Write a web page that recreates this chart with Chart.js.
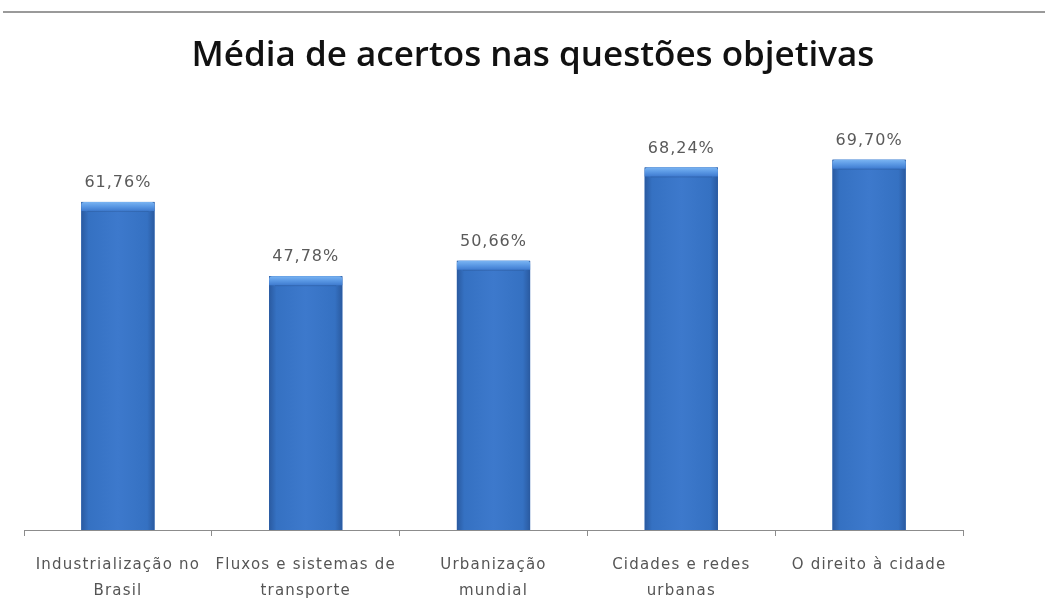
<!DOCTYPE html>
<html>
<head>
<meta charset="utf-8">
<script src="https://cdn.jsdelivr.net/npm/chart.js@4"></script>
<style>
  html, body { margin: 0; padding: 0; background: #fff; }
  #wrap { position: relative; width: 1045px; height: 604px; }
  #topline { position: absolute; left: 3px; right: 0; top: 11px; height: 2px; background: #9a9a9a; }
</style>
</head>
<body>
<div id="wrap">
  <div id="topline"></div>
  <canvas id="chart" width="1045" height="604"></canvas>
</div>
<script>
// --- DATA ---
const categories = [
    ["Industrialização no", "Brasil"],
    ["Fluxos e sistemas de", "transporte"],
    ["Urbanização", "mundial"],
    ["Cidades e redes", "urbanas"],
    ["O direito à cidade"]
];
const acertos = [61.76, 47.78, 50.66, 68.24, 69.70];
const chartTitle = "Média de acertos nas questões objetivas";

// value with comma decimal, like "61,76%"
function fmtPct(v) {
    return v.toFixed(2).replace(".", ",") + "%";
}

// wider letter spacing for the axis labels
const spacedText = {
    id: "spacedText",
    beforeDraw(chart) {
        chart.ctx.letterSpacing = "1.2px";
    }
};

// --- TITLE (drawn a bit right of the plot centre) ---
const titleText = {
    id: "titleText",
    afterDraw(chart) {
        const ctx = chart.ctx;
        ctx.save();
        ctx.letterSpacing = "0px";
        ctx.fillStyle = "#111";
        ctx.font = "600 35px 'Open Sans', sans-serif";
        ctx.textAlign = "center";
        ctx.textBaseline = "middle";
        ctx.fillText(chartTitle, 533, 56);
        ctx.restore();
    }
};

// --- BAR SHADING + VALUE LABELS ---
const bevelBars = {
    id: "bevelBars",
    afterDatasetsDraw(chart) {
        const ctx = chart.ctx;
        const meta = chart.getDatasetMeta(0);
        meta.data.forEach((bar, i) => {
            const x0 = bar.x - bar.width / 2;
            const x1 = bar.x + bar.width / 2;
            const top = bar.y;
            const base = bar.base;

            // body: darker side edges
            const g = ctx.createLinearGradient(x0, 0, x1, 0);
            g.addColorStop(0, "#2a5aa0");
            g.addColorStop(0.1, "#3571c2");
            g.addColorStop(0.5, "#3d79cc");
            g.addColorStop(0.9, "#3571c2");
            g.addColorStop(1, "#2a5aa0");
            ctx.save();
            ctx.fillStyle = g;
            ctx.fillRect(x0, top, x1 - x0, base - top);

            // top bevel
            const bh = 9;
            const vg = ctx.createLinearGradient(0, top, 0, top + bh);
            vg.addColorStop(0, "#7ab4f2");
            vg.addColorStop(0.5, "#5a98e4");
            vg.addColorStop(1, "#3f7bcf");
            ctx.fillStyle = vg;
            ctx.beginPath();
            ctx.moveTo(x0 + 3, top);
            ctx.lineTo(x1 - 3, top);
            ctx.quadraticCurveTo(x1, top, x1, top + 3);
            ctx.lineTo(x1, top + bh);
            ctx.lineTo(x1 - 6, top + bh);
            ctx.lineTo(x0 + 6, top + bh);
            ctx.lineTo(x0, top + bh);
            ctx.lineTo(x0, top + 3);
            ctx.quadraticCurveTo(x0, top, x0 + 3, top);
            ctx.closePath();
            ctx.fill();
            ctx.strokeStyle = "rgba(40,80,140,0.35)";
            ctx.lineWidth = 1;
            ctx.beginPath();
            ctx.moveTo(x0 + 6, top + bh + 0.5);
            ctx.lineTo(x1 - 6, top + bh + 0.5);
            ctx.stroke();

            // value label
            ctx.fillStyle = "#5a5a5a";
            ctx.font = "16px 'DejaVu Sans', sans-serif";
            ctx.letterSpacing = "1px";
            ctx.textAlign = "center";
            ctx.textBaseline = "middle";
            ctx.fillText(fmtPct(acertos[i]), bar.x, top - 19);
            ctx.restore();
        });
    }
};

new Chart(document.getElementById("chart"), {
    type: "bar",
    data: {
        labels: categories,
        datasets: [{
            data: acertos,
            backgroundColor: "#3a75c8",
            borderWidth: 0,
            categoryPercentage: 1.0,
            barPercentage: 0.39
        }]
    },
    options: {
        responsive: false,
        animation: false,
        layout: { padding: { left: 24, right: 82, top: 105, bottom: 0 } },
        plugins: {
            legend: { display: false },
            tooltip: { enabled: false },
            title: { display: false }
        },
        scales: {
            x: {
                offset: true,
                border: { display: true, color: "#8c8c8c", width: 1 },
                grid: {
                    offset: true,
                    drawOnChartArea: false,
                    drawTicks: true,
                    tickLength: 6,
                    color: "#8c8c8c"
                },
                ticks: {
                    color: "#555",
                    padding: 16,
                    maxRotation: 0,
                    autoSkip: false,
                    font: { family: "'DejaVu Sans', sans-serif", size: 15, lineHeight: 1.75 }
                },
                afterFit(scale) {
                    scale.height = 74;
                }
            },
            y: {
                display: false,
                min: 0,
                max: 80
            }
        }
    },
    plugins: [spacedText, bevelBars, titleText]
});
</script>
</body>
</html>
